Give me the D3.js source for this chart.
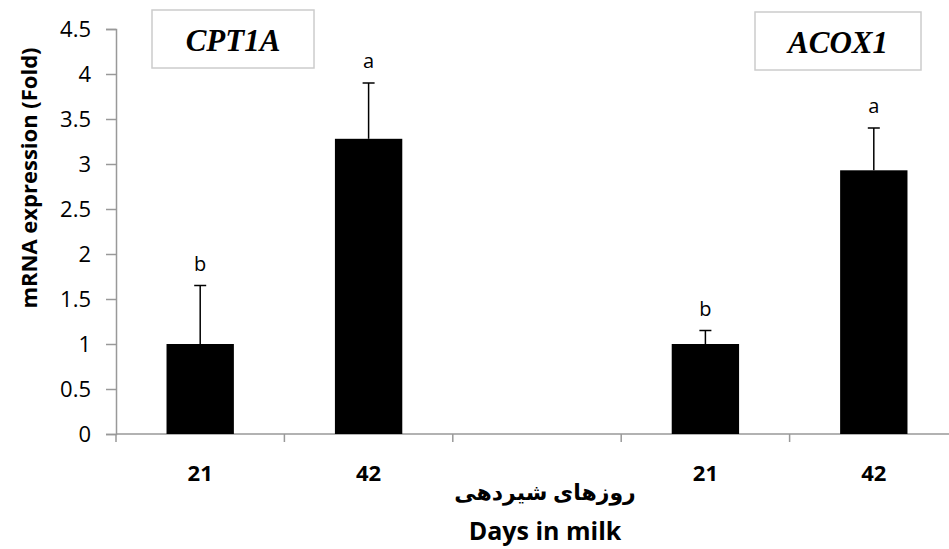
<!DOCTYPE html>
<html>
<head>
<meta charset="utf-8">
<script src="https://cdn.jsdelivr.net/npm/d3@7"></script>
<style>
  body { margin: 0; background: #fff; }
  text { font-family: "Open Sans", sans-serif; }
</style>
</head>
<body>
<svg id="svg" width="949" height="549"></svg>
<script>
// categories along the x axis (middle slot is the gap between genes)
var categories = ["c1", "c2", "gap", "c3", "c4"];
var tickLabels = ["21", "42", "", "21", "42"];
var means = [1.0, 3.28, null, 1.0, 2.93];
var errors = [0.65, 0.62, null, 0.15, 0.47];
var letters = ["b", "a", "", "b", "a"];
var genes = ["CPT1A", "ACOX1"];
var yTicks = [0, 0.5, 1, 1.5, 2, 2.5, 3, 3.5, 4, 4.5];

var svg = d3.select("#svg");

var y = d3.scaleLinear().domain([0, 4.5]).range([434, 29]);
var x = d3.scaleBand().domain(categories).range([116, 958]).paddingInner(0.6).paddingOuter(0.3);

// y axis
var yAxis = svg.append("g")
    .attr("transform", "translate(116,0)")
    .call(d3.axisLeft(y).tickValues(yTicks).tickSize(10).tickFormat(d3.format("")));
yAxis.select(".domain").attr("stroke", "#999").attr("stroke-width", 1.5);
yAxis.selectAll(".tick line").attr("stroke", "#999").attr("stroke-width", 1.5);
yAxis.selectAll(".tick text")
    .style("font-size", "22px")
    .attr("fill", "#000")
    .attr("x", -25);

// x axis line and boundary ticks
var band = (958 - 116) / categories.length;
svg.append("line")
    .attr("x1", 116).attr("x2", 949)
    .attr("y1", y(0)).attr("y2", y(0))
    .attr("stroke", "#999").attr("stroke-width", 1.5);
d3.range(categories.length + 1).forEach(function (i) {
    svg.append("line")
        .attr("x1", 116 + band * i).attr("x2", 116 + band * i)
        .attr("y1", y(0)).attr("y2", y(0) + 8)
        .attr("stroke", "#999").attr("stroke-width", 1.5);
});

// category labels
svg.selectAll(".xlab")
    .data(categories)
    .enter()
    .append("text")
    .attr("x", function (d) { return x(d) + x.bandwidth() / 2; })
    .attr("y", 481)
    .attr("text-anchor", "middle")
    .style("font-size", "22px")
    .attr("font-weight", "bold")
    .text(function (d, i) { return tickLabels[i]; });

var data = categories.map(function (c, i) {
    return { cat: c, mean: means[i], err: errors[i], letter: letters[i] };
}).filter(function (d) { return d.mean != null; });

// bars
svg.selectAll(".bar")
    .data(data)
    .enter()
    .append("rect")
    .attr("x", function (d) { return x(d.cat); })
    .attr("width", x.bandwidth())
    .attr("y", function (d) { return y(d.mean); })
    .attr("height", function (d) { return y(0) - y(d.mean); })
    .attr("fill", "#000");

// error bars (upper only)
var eb = svg.selectAll(".err").data(data).enter().append("g");
eb.append("line")
    .attr("x1", function (d) { return x(d.cat) + x.bandwidth() / 2; })
    .attr("x2", function (d) { return x(d.cat) + x.bandwidth() / 2; })
    .attr("y1", function (d) { return y(d.mean); })
    .attr("y2", function (d) { return y(d.mean + d.err); })
    .attr("stroke", "#000").attr("stroke-width", 1.5);
eb.append("line")
    .attr("x1", function (d) { return x(d.cat) + x.bandwidth() / 2 - 6; })
    .attr("x2", function (d) { return x(d.cat) + x.bandwidth() / 2 + 6; })
    .attr("y1", function (d) { return y(d.mean + d.err); })
    .attr("y2", function (d) { return y(d.mean + d.err); })
    .attr("stroke", "#000").attr("stroke-width", 1.5);
eb.append("text")
    .attr("x", function (d) { return x(d.cat) + x.bandwidth() / 2; })
    .attr("y", function (d) { return y(d.mean + d.err) - 15; })
    .attr("text-anchor", "middle")
    .style("font-size", "20px")
    .text(function (d) { return d.letter; });

// gene boxes
var boxes = [{ x: 152, y: 10, w: 162, h: 58 }, { x: 755, y: 12, w: 166, h: 58 }];
boxes.forEach(function (b, i) {
    svg.append("rect")
        .attr("x", b.x).attr("y", b.y).attr("width", b.w).attr("height", b.h)
        .attr("fill", "#fff").attr("stroke", "#ccc").attr("stroke-width", 1.5);
    svg.append("text")
        .attr("x", b.x + b.w / 2).attr("y", b.y + 41)
        .attr("text-anchor", "middle")
        .style("font-family", "'Liberation Serif', serif")
        .style("font-size", "31px")
        .attr("font-weight", "bold")
        .attr("font-style", "italic")
        .text(genes[i]);
});

// axis titles
svg.append("text")
    .attr("transform", "translate(37,178) rotate(-90)")
    .attr("text-anchor", "middle")
    .style("font-size", "22px")
    .attr("font-weight", "bold")
    .text("mRNA expression (Fold)");

svg.append("text")
    .attr("x", 545).attr("y", 500)
    .attr("text-anchor", "middle")
    .style("font-size", "22px")
    .attr("font-weight", "bold")
    .style("font-family", "'Noto Sans', 'DejaVu Sans', sans-serif")
    .text("روزهای شیردهی");

svg.append("text")
    .attr("x", 545).attr("y", 540)
    .attr("text-anchor", "middle")
    .style("font-size", "25px")
    .attr("font-weight", "bold")
    .text("Days in milk");
</script>
</body>
</html>
